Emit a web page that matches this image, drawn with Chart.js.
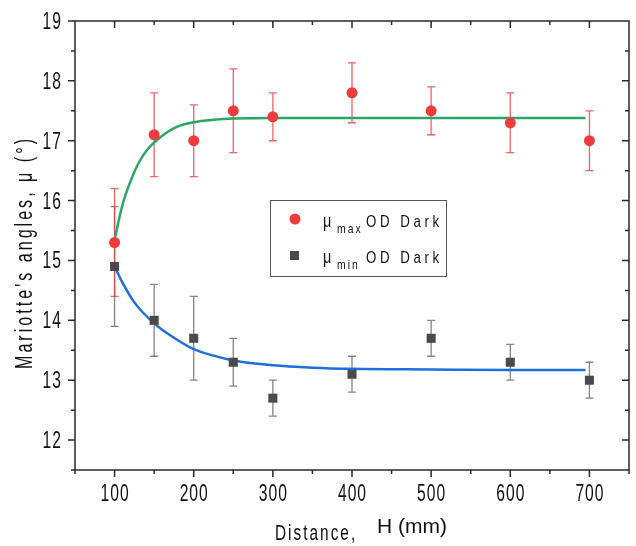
<!DOCTYPE html>
<html>
<head>
<meta charset="utf-8">
<script src="https://cdn.jsdelivr.net/npm/chart.js@4.4.0/dist/chart.umd.min.js"></script>
<style>
  html, body { margin: 0; padding: 0; background: #fff; }
  #wrap { width: 636px; height: 546px; }
</style>
</head>
<body>
<div id="wrap"><canvas id="chart" width="636" height="546"></canvas></div>
<script>
// measured points
const distances = [100, 150, 200, 250, 300, 400, 500, 600, 700]
const muMax = [15.3, 17.1, 17.0, 17.5, 17.4, 17.8, 17.5, 17.3, 17.0]
const muMaxErr = [0.9, 0.7, 0.6, 0.7, 0.4, 0.5, 0.4, 0.5, 0.5]
const muMin = [14.9, 14.0, 13.7, 13.3, 12.7, 13.1, 13.7, 13.3, 13.0]
const muMinErr = [1.0, 0.6, 0.7, 0.4, 0.3, 0.3, 0.3, 0.3, 0.3]

// fitted curves
const fitMaxX = [100, 110, 120, 130, 140, 150, 165, 180, 200, 225, 250, 300, 400, 500, 600, 695]
const fitMaxY = [15.35, 15.93, 16.32, 16.62, 16.83, 16.97, 17.13, 17.24, 17.31, 17.35, 17.37, 17.38, 17.38, 17.38, 17.38, 17.38]
const fitMinX = [100, 110, 125, 150, 175, 200, 225, 250, 300, 350, 400, 500, 600, 695]
const fitMinY = [14.9, 14.63, 14.3, 13.95, 13.71, 13.52, 13.41, 13.33, 13.25, 13.21, 13.19, 13.18, 13.17, 13.17]

const xTicks = [100, 200, 300, 400, 500, 600, 700]
const yTicks = [12, 13, 14, 15, 16, 17, 18, 19]

const sans = '"Liberation Sans", Arial, sans-serif'

const pts = (xs, ys) => xs.map((x, i) => ({ x: x, y: ys[i] }))

// condensed text: squeeze horizontally, spacing given in screen px
function narrowText(ctx, text, x, y, size, squeeze, spacing, align) {
  ctx.save()
  ctx.font = size + 'px ' + sans
  ctx.letterSpacing = (spacing / squeeze) + 'px'
  ctx.textBaseline = 'alphabetic'
  ctx.textAlign = 'left'
  const w = (ctx.measureText(text).width - spacing / squeeze) * squeeze
  let left = x
  if (align === 'center') left = x - w / 2
  if (align === 'right') left = x - w
  ctx.translate(left, y)
  ctx.scale(squeeze, 1)
  ctx.fillText(text, 0, 0)
  ctx.restore()
  return w
}

// error bars, frame, ticks, titles, legend
const decor = {
  id: 'decor',
  beforeDatasetsDraw(chart) {
    const ctx = chart.ctx
    const x = chart.scales.x
    const y = chart.scales.y
    const bars = function (vals, errs, color) {
      ctx.save()
      ctx.strokeStyle = color
      ctx.lineWidth = 1.3
      for (let i = 0; i < distances.length; i++) {
        const px = x.getPixelForValue(distances[i])
        const top = y.getPixelForValue(vals[i] + errs[i])
        const bot = y.getPixelForValue(vals[i] - errs[i])
        ctx.beginPath()
        ctx.moveTo(px, top); ctx.lineTo(px, bot)
        ctx.moveTo(px - 4, top); ctx.lineTo(px + 4, top)
        ctx.moveTo(px - 4, bot); ctx.lineTo(px + 4, bot)
        ctx.stroke()
      }
      ctx.restore()
    }
    bars(muMin, muMinErr, 'rgba(90,90,90,0.75)')
    bars(muMax, muMaxErr, 'rgba(238,60,60,0.8)')
  },
  afterDraw(chart) {
    const ctx = chart.ctx
    const a = chart.chartArea
    const x = chart.scales.x
    const y = chart.scales.y
    ctx.save()
    ctx.strokeStyle = '#2a2a2a'
    ctx.lineWidth = 1.5
    ctx.strokeRect(a.left, a.top, a.right - a.left, a.bottom - a.top)

    ctx.beginPath()
    for (let v = 50; v <= 750; v += 50) {
      const px = x.getPixelForValue(v)
      const len = v % 100 === 0 ? 7 : 4
      ctx.moveTo(px, a.bottom); ctx.lineTo(px, a.bottom + len)
      if (v > 50 && v < 750) {
        ctx.moveTo(px, a.top); ctx.lineTo(px, a.top + len)
      }
    }
    for (let v = 11.5; v <= 19; v += 0.5) {
      const py = y.getPixelForValue(v)
      const len = Number.isInteger(v) ? 7 : 4
      ctx.moveTo(a.left, py); ctx.lineTo(a.left - len, py)
      if (v > 11.5 && v < 19) {
        ctx.moveTo(a.right, py); ctx.lineTo(a.right - len, py)
      }
    }
    ctx.stroke()

    // tick labels
    ctx.fillStyle = '#111'
    xTicks.forEach(v => narrowText(ctx, String(v), x.getPixelForValue(v), a.bottom + 30.5, 23, 0.68, 1, 'center'))
    yTicks.forEach(v => narrowText(ctx, String(v), a.left - 14, y.getPixelForValue(v) + 8, 23, 0.68, 1, 'right'))

    // axis titles
    ctx.save()
    ctx.translate(32, 254)
    ctx.rotate(-Math.PI / 2)
    narrowText(ctx, "Mariotte's angles, \u03bc (\u00b0)", 0, 0, 23, 0.7, 3, 'center')
    ctx.restore()

    narrowText(ctx, 'Distance,', 275, 540, 22, 0.7, 2, 'left')
    ctx.font = '21px ' + sans
    ctx.textAlign = 'left'
    ctx.textBaseline = 'alphabetic'
    ctx.fillText('H (mm)', 377, 533)

    // legend
    ctx.strokeStyle = '#555'
    ctx.lineWidth = 1
    ctx.strokeRect(270.5, 200.5, 176, 76)
    ctx.fillStyle = '#ee3c3c'
    ctx.beginPath()
    ctx.arc(295, 219, 5.5, 0, Math.PI * 2)
    ctx.fill()
    ctx.fillStyle = '#4a4a4a'
    ctx.fillRect(290, 251, 9, 9)

    ctx.fillStyle = '#111'
    const entry = function (sub, yy) {
      narrowText(ctx, '\u03bc', 323, yy, 18, 0.8, 0, 'left')
      narrowText(ctx, sub, 337, yy + 6, 13, 0.8, 2, 'left')
      narrowText(ctx, 'OD Dark', 366, yy, 17, 0.78, 3.6, 'left')
    }
    entry('max', 227)
    entry('min', 263)
    ctx.restore()
  }
}

new Chart(document.getElementById('chart'), {
  type: 'scatter',
  data: {
    datasets: [
      {
        label: 'mu max OD Dark',
        data: pts(distances, muMax),
        pointStyle: 'circle',
        pointRadius: 5.5,
        backgroundColor: '#ee3c3c',
        borderWidth: 0,
      },
      {
        label: 'mu min OD Dark',
        data: pts(distances, muMin),
        pointStyle: 'rect',
        pointRadius: 6.4,
        backgroundColor: '#4a4a4a',
        borderWidth: 0,
      },
      {
        label: 'fit max',
        data: pts(fitMaxX, fitMaxY),
        showLine: true,
        pointRadius: 0,
        borderColor: '#2ca565',
        borderWidth: 2.5,
        cubicInterpolationMode: 'monotone',
      },
      {
        label: 'fit min',
        data: pts(fitMinX, fitMinY),
        showLine: true,
        pointRadius: 0,
        borderColor: '#1c6fdc',
        borderWidth: 2.5,
        cubicInterpolationMode: 'monotone',
      },
    ],
  },
  options: {
    responsive: false,
    animation: false,
    layout: { padding: { left: 0, right: 7, top: 21, bottom: 0 } },
    plugins: {
      legend: { display: false },
      tooltip: { enabled: false },
    },
    scales: {
      x: {
        type: 'linear',
        min: 50,
        max: 750,
        afterFit: function (s) { s.height = 76 },
        grid: { display: false, drawTicks: false },
        border: { display: false },
        ticks: { display: false },
      },
      y: {
        min: 11.5,
        max: 19,
        afterFit: function (s) { s.width = 75 },
        grid: { display: false, drawTicks: false },
        border: { display: false },
        ticks: { display: false },
      },
    },
  },
  plugins: [decor],
})
</script>
</body>
</html>
